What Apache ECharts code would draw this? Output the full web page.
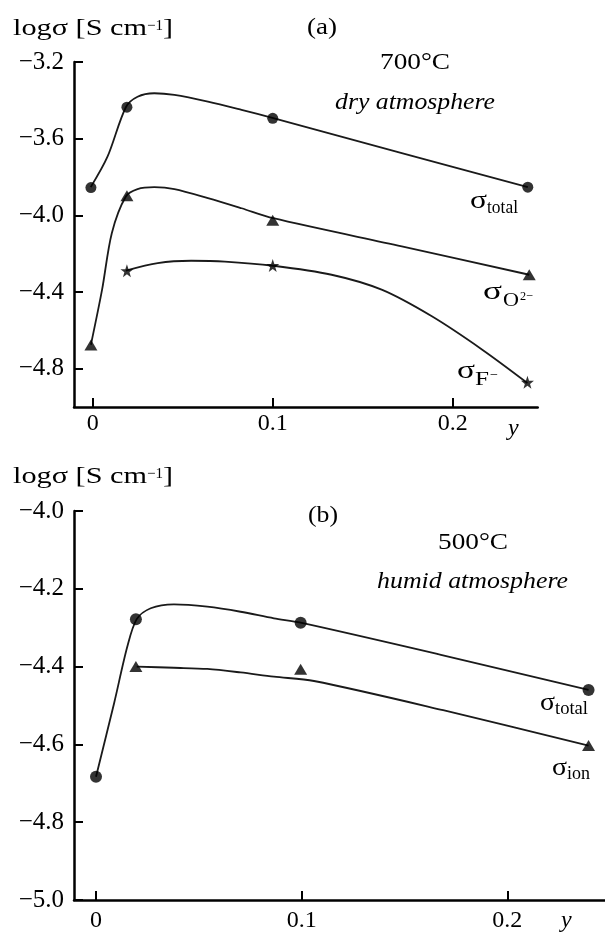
<!DOCTYPE html>
<html>
<head>
<meta charset="utf-8">
<script src="https://cdn.jsdelivr.net/npm/echarts@6/dist/echarts.min.js"></script>
<style>
html,body{margin:0;padding:0;background:#fff;}
#chart{width:605px;height:933px;}
</style>
</head>
<body>
<div id="chart"></div>
<script>
// ---------- Panel (a): 700 °C, dry atmosphere ----------
const aTotalPts = [[-0.001, -3.855], [0.019, -3.436], [0.1, -3.494], [0.2417, -3.853]];
const aO2Pts = [[-0.001, -4.677], [0.019, -3.898], [0.1, -4.026], [0.2425, -4.310]];
const aFPts = [[0.019, -4.289], [0.1, -4.262], [0.2415, -4.871]];
// fitted curves as drawn in the figure
const aTotalCurve = [[-0.0011, -3.853], [0.0082, -3.694], [0.0184, -3.436], [0.0249, -3.381], [0.0342, -3.363], [0.0454, -3.372], [0.064, -3.407], [0.0827, -3.450], [0.1003, -3.493], [0.1717, -3.675], [0.2417, -3.853]];
const aO2Curve = [[-0.001, -4.675], [0.0052, -4.388], [0.0106, -4.093], [0.0184, -3.902], [0.0249, -3.863], [0.0342, -3.853], [0.0454, -3.863], [0.064, -3.910], [0.0827, -3.963], [0.1003, -4.015], [0.1717, -4.162], [0.2425, -4.310]];
const aFCurve = [[0.0184, -4.288], [0.0361, -4.249], [0.0547, -4.237], [0.0734, -4.241], [0.1003, -4.263], [0.1327, -4.310], [0.1605, -4.388], [0.1884, -4.527], [0.2164, -4.701], [0.2415, -4.875]];
const aXTicks = [0, 0.1, 0.2];
const aYTicks = [-4.8, -4.4, -4.0, -3.6, -3.2];

// ---------- Panel (b): 500 °C, humid atmosphere ----------
const bTotalPts = [[0, -4.683], [0.0194, -4.278], [0.0995, -4.287], [0.2395, -4.460]];
const bIonPts = [[0.0194, -4.400], [0.0995, -4.407], [0.2395, -4.603]];
const bTotalCurve = [[0, -4.683], [0.0088, -4.494], [0.0152, -4.349], [0.0198, -4.278], [0.0266, -4.250], [0.0379, -4.240], [0.0541, -4.246], [0.0703, -4.259], [0.0865, -4.276], [0.0995, -4.287], [0.1672, -4.369], [0.2395, -4.460]];
const bIonCurve = [[0.0198, -4.400], [0.0379, -4.403], [0.0541, -4.406], [0.0703, -4.415], [0.0865, -4.426], [0.106, -4.437], [0.1688, -4.512], [0.2395, -4.603]];
const bXTicks = [0, 0.1, 0.2];
const bYTicks = [-5.0, -4.8, -4.6, -4.4, -4.2, -4.0];

const FONT = '"Liberation Serif", "Times New Roman", serif';
const INK = '#000';
const STAR = 'path://M50,0 L61.8,35.1 L98.1,34.5 L69.1,56.7 L79.4,90.5 L50,70 L20.6,90.5 L30.9,56.7 L1.9,34.5 L38.2,35.1 Z';

function fmtY(v) { return v.toFixed(1).replace('-', '\u2212'); }
function fmtX(v) { return v === 0 ? '0' : String(+v.toFixed(1)); }

function xAxisCfg(gi, min, max, ticks, margin) {
  return {
    gridIndex: gi, type: 'value', min: min, max: max,
    axisLine: { onZero: false, lineStyle: { color: INK, width: 2.5 } },
    axisTick: { inside: true, length: 9, customValues: ticks, lineStyle: { color: INK, width: 2 } },
    axisLabel: { customValues: ticks, formatter: fmtX, color: INK, fontFamily: FONT, fontSize: 24, margin: margin },
    splitLine: { show: false }
  };
}
function yAxisCfg(gi, min, max, ticks) {
  return {
    gridIndex: gi, type: 'value', min: min, max: max,
    axisLine: { onZero: false, lineStyle: { color: INK, width: 2.5 } },
    axisTick: { inside: true, length: 9, customValues: ticks, lineStyle: { color: INK, width: 2 } },
    axisLabel: { customValues: ticks, formatter: fmtY, color: INK, fontFamily: FONT, fontSize: 25, margin: 10 },
    splitLine: { show: false }
  };
}
function curve(gi, data) {
  return { type: 'line', xAxisIndex: gi, yAxisIndex: gi, data: data, smooth: 0.3, showSymbol: false,
    lineStyle: { color: '#1a1a1a', width: 1.8 }, z: 2, silent: true };
}
function marks(gi, data, symbol, size) {
  return { type: 'scatter', xAxisIndex: gi, yAxisIndex: gi, data: data, symbol: symbol, symbolSize: size,
    itemStyle: { color: '#000' }, z: 3, silent: true };
}

const mctx = document.createElement('canvas').getContext('2d');
function measure(text, size, italic) {
  mctx.font = (italic ? 'italic ' : '') + size + 'px ' + FONT;
  return mctx.measureText(text).width;
}
// x, y: left edge and vertical centre; w: width the text spans in the figure
function txt(x, y, text, size, w, italic) {
  const sx = w ? w / measure(text, size, italic) : 1;
  return {
    type: 'text', x: x, y: y, scaleX: sx, z: 10,
    style: { text: text, fill: INK, fontFamily: FONT, fontSize: size, fontStyle: italic ? 'italic' : 'normal',
      align: 'left', verticalAlign: 'middle' }
  };
}

const graphics = [
  // panel a
  txt(13, 29, 'log\u03c3 [S cm', 24, 134),
  txt(147, 26, '\u22121', 15, 16),
  txt(163, 29, ']', 24, 10),
  txt(307, 28, '(a)', 24, 30),
  txt(380, 63, '700\u00b0C', 24, 70),
  txt(335, 102.5, 'dry atmosphere', 24, 160, true),
  txt(470, 201, '\u03c3', 26, 17),
  txt(487, 208, 'total', 19, 31),
  txt(483, 292.5, '\u03c3', 26, 19),
  txt(503, 301.5, 'O', 19, 16),
  txt(520, 297, '2\u2212', 13, 13),
  txt(457, 371.5, '\u03c3', 26, 18),
  txt(475, 380, 'F', 19, 14),
  txt(490, 375, '\u2212', 14, 8),
  txt(508, 429, 'y', 24, 0, true),
  // panel b
  txt(13, 477, 'log\u03c3 [S cm', 24, 134),
  txt(147, 474, '\u22121', 15, 16),
  txt(163, 477, ']', 24, 10),
  txt(308, 516, '(b)', 24, 30),
  txt(438, 543, '500\u00b0C', 24, 70),
  txt(377, 582, 'humid atmosphere', 24, 191, true),
  txt(540, 703.5, '\u03c3', 26, 15),
  txt(555, 709.5, 'total', 19, 33),
  txt(552, 768.5, '\u03c3', 26, 15),
  txt(567, 774.5, 'ion', 19, 23),
  txt(561, 921, 'y', 24, 0, true)
];

const chart = echarts.init(document.getElementById('chart'), null, { renderer: 'canvas' });
chart.setOption({
  animation: false,
  backgroundColor: '#fff',
  grid: [
    { left: 74, top: 62, width: 463.7, height: 345 },
    { left: 74, top: 511, right: 0, bottom: 33 }
  ],
  xAxis: [
    xAxisCfg(0, -0.0104, 0.2472, aXTicks, 5),
    xAxisCfg(1, -0.0107, 0.2475, bXTicks, 9)
  ],
  yAxis: [
    yAxisCfg(0, -5.0, -3.2, aYTicks),
    yAxisCfg(1, -5.0, -4.0, bYTicks)
  ],
  series: [
    curve(0, aTotalCurve), curve(0, aO2Curve), curve(0, aFCurve),
    marks(0, aTotalPts, 'circle', 11), marks(0, aO2Pts, 'triangle', [13, 11]), marks(0, aFPts, STAR, 13),
    curve(1, bTotalCurve), curve(1, bIonCurve),
    marks(1, bTotalPts, 'circle', 12), marks(1, bIonPts, 'triangle', [13, 11])
  ],
  graphic: graphics
});
</script>
</body>
</html>
